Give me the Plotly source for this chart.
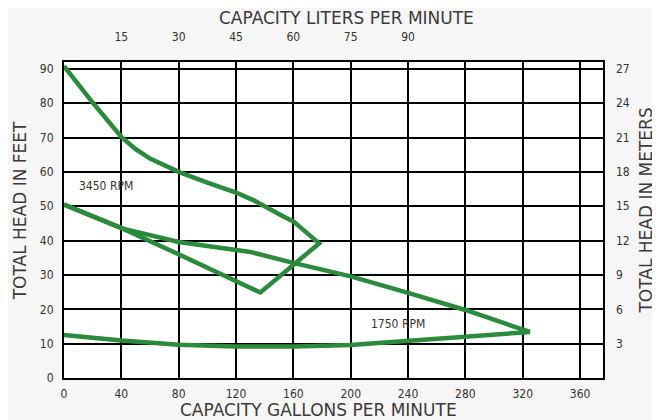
import plotly.graph_objects as go

# 3450 RPM curve (gpm, feet)
gpm_3450 = [0, 20, 40, 50, 60, 70, 80, 100, 120, 132, 144, 153, 160, 168, 178, 137, 95, 78, 41, 0]
head_3450 = [90.8, 80.2, 70.2, 66.6, 63.9, 61.8, 60, 56.9, 54.0, 51.8, 48.9, 47, 45.6, 42.8, 39.2,
             24.9, 33.3, 36.4, 43.5, 50.5]

# crossing branch down to the 1750 RPM curve
gpm_1750 = [0, 41, 80, 130, 160, 200, 240, 280, 325, 280, 240, 200, 160, 120, 80, 40, 0]
head_1750 = [50.5, 43.5, 39.6, 36.7, 33.5, 29.6, 24.8, 19.8, 13.4, 12.0, 10.9, 9.6, 9.2, 9.2, 9.7, 10.9, 12.5]

gpm_ticks = [0, 40, 80, 120, 160, 200, 240, 280, 320, 360]
lpm_ticks = ["15", "30", "45", "60", "75", "90"]
feet_ticks = [0, 10, 20, 30, 40, 50, 60, 70, 80, 90]
meter_ticks = ["3", "6", "9", "12", "15", "18", "21", "24", "27"]

GREEN = "#2b8a3c"
TITLE_FONT = dict(family="DejaVu Sans", size=17, color="#3a3a3a")
NARROW = "DejaVu Sans Condensed, Roboto, sans-serif"
TICK_FONT = dict(family=NARROW, size=12, color="#333")

fig = go.Figure()
fig.add_trace(go.Scatter(x=gpm_1750, y=head_1750, mode="lines",
                         line=dict(color=GREEN, width=4.5), showlegend=False))
fig.add_trace(go.Scatter(x=gpm_3450, y=head_3450, mode="lines",
                         line=dict(color=GREEN, width=4.5), showlegend=False))
# invisible trace so the secondary axes are drawn
fig.add_trace(go.Scatter(x=[0], y=[0], xaxis="x2", yaxis="y2", mode="markers",
                         marker=dict(opacity=0), showlegend=False, hoverinfo="skip"))

fig.add_annotation(x=29, y=56, text="3450 RPM", showarrow=False,
                   font=dict(family=NARROW, size=12, color="#333"))
fig.add_annotation(x=233, y=15.6, text="1750 RPM", showarrow=False,
                   font=dict(family=NARROW, size=12, color="#333"))

# axis titles, placed in paper coordinates
titles = [
    ("CAPACITY LITERS PER MINUTE", 0.525, 1.139, 0),
    ("CAPACITY GALLONS PER MINUTE", 0.473, -0.101, 0),
    ("TOTAL HEAD IN FEET", -0.082, 0.53, -90),
    ("TOTAL HEAD IN METERS", 1.078, 0.53, -90),
]
for text, tx, ty, ang in titles:
    fig.add_annotation(x=tx, y=ty, xref="paper", yref="paper", text=text, textangle=ang,
                       showarrow=False, font=TITLE_FONT, xanchor="center", yanchor="middle")

axis_common = dict(showline=True, linecolor="black", linewidth=2, mirror=True,
                   zeroline=False, ticks="", tickfont=TICK_FONT)

# the page body adds an 8px offset, so the figure is a bit smaller than the window
fig.update_layout(
    width=652, height=412,
    paper_bgcolor="#f6f6f6", plot_bgcolor="white",
    margin=dict(l=56, r=57, t=54, b=42),
    xaxis=dict(range=[0, 376], tickvals=gpm_ticks, showgrid=True, gridcolor="black",
               gridwidth=2, ticklabelstandoff=4, **axis_common),
    yaxis=dict(range=[0, 92], tickvals=feet_ticks, showgrid=True, gridcolor="black",
               gridwidth=2, ticklabelstandoff=6, **axis_common),
    xaxis2=dict(range=[0, 376], overlaying="x", side="top", showgrid=False,
                tickvals=[40, 80, 120, 160, 200, 240], ticktext=lpm_ticks,
                ticklabelstandoff=18, zeroline=False, ticks="", tickfont=TICK_FONT),
    yaxis2=dict(range=[0, 92], overlaying="y", side="right", showgrid=False,
                tickvals=[10, 20, 30, 40, 50, 60, 70, 80, 90], ticktext=meter_ticks,
                ticklabelstandoff=12, zeroline=False, ticks="", tickfont=TICK_FONT),
)

fig.write_html("out.html")
